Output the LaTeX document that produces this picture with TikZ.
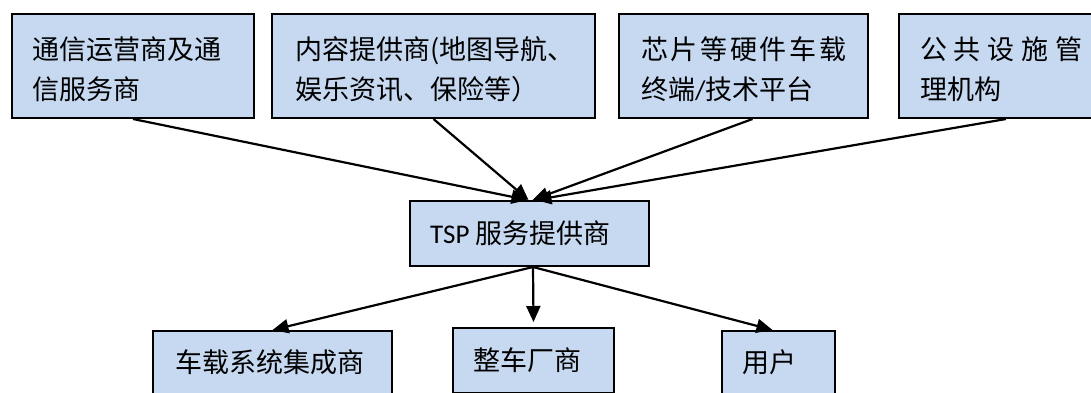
\documentclass[tikz,border=0pt]{standalone}
\usepackage{fontspec}
\setmainfont{Noto Sans CJK SC}
\newfontfamily\lat{Carlito}
\usetikzlibrary{arrows.meta}
\definecolor{boxblue}{HTML}{C6D9F1}
\begin{document}
\begin{tikzpicture}[x=1pt,y=-1pt,
  box/.style={draw=black, fill=boxblue, line width=2pt, rectangle, inner sep=0pt, anchor=north west},
  txt/.style={anchor=base west, inner sep=0pt, font=\fontsize{27}{27}\selectfont},
  conn/.style={line width=2.2pt, -{Triangle[length=16pt,width=14pt]}}]
\useasboundingbox (0,0) rectangle (1091,392);
\clip (0,0) rectangle (1091,392);
% top boxes
\node[box, minimum width=242pt, minimum height=104pt] (n1) at (11,13) {};
\node[box, minimum width=323pt, minimum height=104pt] (n2) at (271,13) {};
\node[box, minimum width=249pt, minimum height=104pt] (n3) at (618,13) {};
\node[box, minimum width=214pt, minimum height=104pt] (n4) at (898,13) {};
% middle
\node[box, minimum width=239pt, minimum height=65pt] (tsp) at (409,200) {};
% bottom
\node[box, minimum width=239pt, minimum height=65pt] (ba) at (152,330) {};
\node[box, minimum width=161pt, minimum height=65pt] (bb) at (452,327) {};
\node[box, minimum width=113pt, minimum height=65pt] (bc) at (721,330) {};
% texts
\node[txt] (t1a) at (32,59) {通信运营商及通};
\node[txt] (t1b) at (32,99) {信服务商};
\node[txt] (t2a) at (295,59) {内容提供商(地图导航、};
\node[txt] (t2b) at (295,99) {娱乐资讯、保险等）};
\node[txt] (t3a) at (641,59) {\makebox[205pt][s]{芯\hfil 片\hfil 等\hfil 硬\hfil 件\hfil 车\hfil 载}};
\node[txt] (t3b) at (641,99) {终端{\lat/}技术平台};
\node[txt] (t4a) at (920,59) {\makebox[162pt][s]{公\hfil 共\hfil 设\hfil 施\hfil 管}};
\node[txt] (t4b) at (920,99) {理机构};
\node[txt] (ttsp) at (430,243) {{\lat TSP} 服务提供商};
\node[txt] (tba) at (175,372) {车载系统集成商};
\node[txt] (tbb) at (473,370) {整车厂商};
\node[txt] (tbc) at (742,372) {用户};
% connectors
\draw[conn] (n1.south) -- ([xshift=-2pt]tsp.north);
\draw[conn] (n2.south) -- ([xshift=-1pt]tsp.north);
\draw[conn] ([xshift=9pt]n3.south) -- ([xshift=3pt]tsp.north);
\draw[conn] (n4.south) -- ([xshift=6pt]tsp.north);
\draw[conn] ([xshift=3.5pt]tsp.south) -- (ba.north);
\draw[conn] ([xshift=3.5pt]tsp.south) -- ([yshift=5pt]bb.north);
\draw[conn] ([xshift=3.5pt]tsp.south) -- ([xshift=-6pt]bc.north);
\end{tikzpicture}
\end{document}
